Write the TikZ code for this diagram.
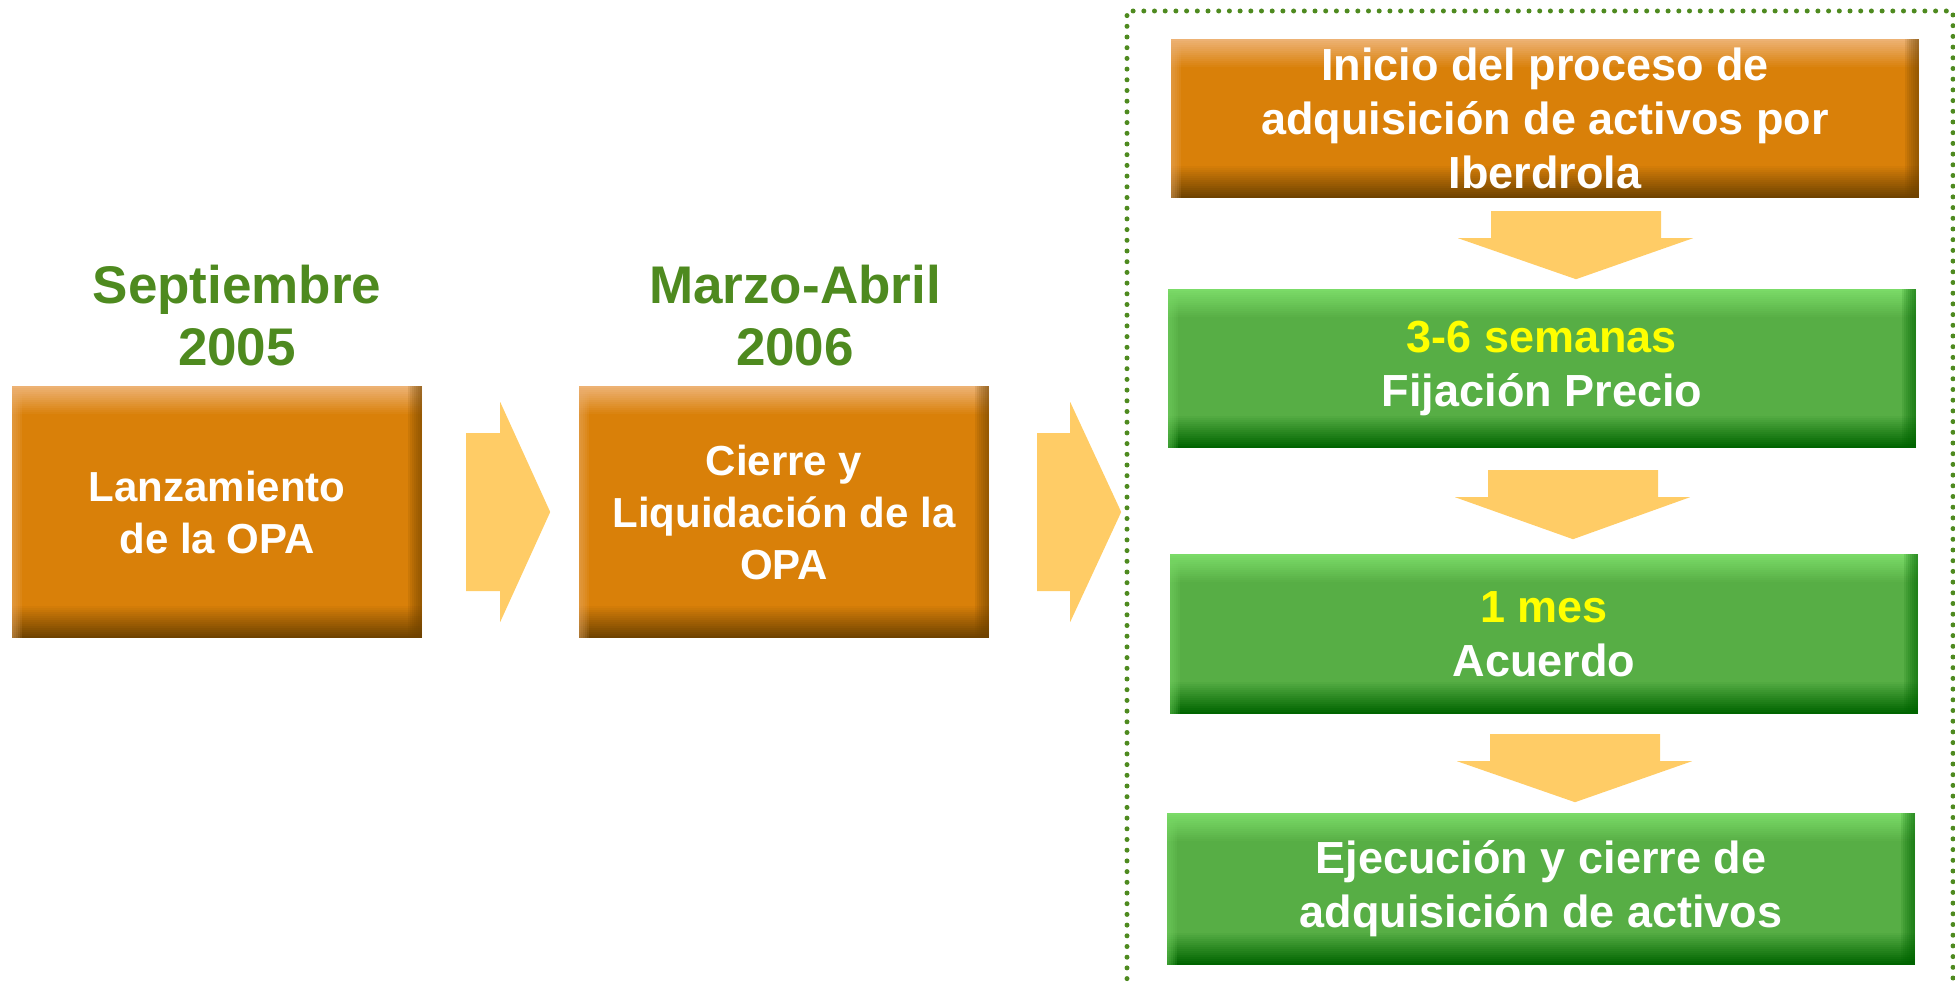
\documentclass[tikz,border=0pt]{standalone}
\usepackage{fontspec}
\setmainfont{Liberation Sans}
\usetikzlibrary{calc}
\definecolor{boxorange}{HTML}{D98009}
\definecolor{boxorangelight}{HTML}{EDB274}
\definecolor{boxorangedark}{HTML}{6E4200}
\definecolor{boxgreen}{HTML}{57AE45}
\definecolor{boxgreenlight}{HTML}{7BDB68}
\definecolor{boxgreendark}{HTML}{006400}
\definecolor{titlegreen}{HTML}{4E8A1F}
\definecolor{arrowfill}{HTML}{FFCC66}
\definecolor{hiyellow}{HTML}{FFFF00}
\tikzset{
  bevel/.style n args={3}{rectangle, fill=#1, text=white, align=center, inner sep=0pt,
    path picture={
      % top light gradient
      \foreach \i in {0,...,13}{
        \pgfmathtruncatemacro\pc{100-\i*100/14}
        \pgfmathsetmacro\ya{-2*\i}
        \pgfmathsetmacro\yb{-2*\i-2.3}
        \fill[#2!\pc!#1] ([yshift=\ya pt]path picture bounding box.north west) rectangle ([yshift=\yb pt]path picture bounding box.north east);
      }
      % bottom dark gradient
      \foreach \i in {0,...,15}{
        \pgfmathtruncatemacro\pc{100-\i*100/16}
        \pgfmathsetmacro\ya{2*\i}
        \pgfmathsetmacro\yb{2*\i+2.3}
        \fill[#3!\pc!#1] ([yshift=\ya pt]path picture bounding box.south west) rectangle ([yshift=\yb pt]path picture bounding box.south east);
      }
      % right dark edge
      \foreach \i in {0,...,6}{
        \pgfmathsetmacro\xa{-2*\i}
        \fill[#3, opacity=0.12] ([xshift=\xa pt]path picture bounding box.north east) rectangle ([xshift=\xa pt-2pt]path picture bounding box.south east);
        \fill[#3, opacity=0.12] (path picture bounding box.north east) rectangle ([xshift=\xa pt]path picture bounding box.south east);
      }
      % left light edge
      \foreach \i in {0,...,4}{
        \pgfmathsetmacro\xa{2*\i+2}
        \fill[#2, opacity=0.12] (path picture bounding box.north west) rectangle ([xshift=\xa pt]path picture bounding box.south west);
      }
    }},
  orangebox/.style={bevel={boxorange}{boxorangelight}{boxorangedark}},
  greenbox/.style={bevel={boxgreen}{boxgreenlight}{boxgreendark}},
  lefttext/.style={font=\bfseries\fontsize{42}{52}\selectfont},
  righttext/.style={font=\bfseries\fontsize{45}{54}\selectfont},
  titletext/.style={text=titlegreen, align=center, inner sep=0pt, font=\bfseries\fontsize{53}{62}\selectfont},
  fatarrow/.style={fill=arrowfill, draw=none},
  dotborder/.style={draw=titlegreen, line width=5pt, dash pattern=on 0pt off 10.7pt, line cap=round}
}
% #1 node, #2 shaft top offset, #3 head base offset, #4 tip offset (downwards, in px)
\newcommand\fatdown[4]{%
  \fill[fatarrow] ($(#1.south)+(-54,-#2)$) -- ($(#1.south)+(116,-#2)$) -- ($(#1.south)+(116,-#3)$)
    -- ($(#1.south)+(148,-#3)$) -- ($(#1.south)+(31,-#4)$) -- ($(#1.south)+(-87,-#3)$)
    -- ($(#1.south)+(-54,-#3)$) -- cycle;}
\newcommand\fatright[4]{%
  \fill[fatarrow] ($(#1.east)+(#2,-79)$) -- ($(#1.east)+(#3,-79)$) -- ($(#1.east)+(#3,-110)$)
    -- ($(#1.east)+(#4,0)$) -- ($(#1.east)+(#3,110)$) -- ($(#1.east)+(#3,79)$)
    -- ($(#1.east)+(#2,79)$) -- cycle;}
\begin{document}
\begin{tikzpicture}[x=1pt,y=1pt]
\useasboundingbox (0,-984) rectangle (1955,0);
\clip (0,-984) rectangle (1955,0);

% dotted frame
\coordinate (fbl) at (1127,-1000);
\coordinate (ftl) at (1127,-11);
\coordinate (ftr) at (1953,-11);
\coordinate (fbr) at (1953,-1000);
\draw[dotborder] (fbl) -- (ftl) -- (ftr) -- (fbr);

% titles
\node[titletext] (t1) at (237,-316) {Septiembre\\2005};
\node[titletext] (t2) at (795,-316) {Marzo-Abril\\2006};

% left boxes
\node[orangebox, lefttext, minimum width=410pt, minimum height=252pt] (b1) at (217,-512) {Lanzamiento\\de la OPA};
\node[orangebox, lefttext, minimum width=410pt, minimum height=252pt] (b2) at (784,-512) {Cierre y\\Liquidación de la\\OPA};

% right boxes
\node[orangebox, righttext, minimum width=748pt, minimum height=159pt] (b3) at (1545,-118.5) {Inicio del proceso de\\adquisición de activos por\\Iberdrola};
\node[greenbox, righttext, minimum width=748pt, minimum height=159pt] (b4) at (1542,-368.5) {\textcolor{hiyellow}{3-6 semanas}\\Fijación Precio};
\node[greenbox, righttext, minimum width=748pt, minimum height=160pt] (b5) at (1544,-634) {\textcolor{hiyellow}{1 mes}\\Acuerdo};
\node[greenbox, righttext, minimum width=748pt, minimum height=152pt] (b6) at (1541,-889) {Ejecución y cierre de\\adquisición de activos};

% arrows
\fatright{b1}{44}{78}{128}
\fatright{b2}{48}{81}{132}
\fatdown{b3}{13}{40}{81}
\fatdown{b4}{22}{49}{91}
\fatdown{b5}{20}{47}{88}
\end{tikzpicture}
\end{document}
